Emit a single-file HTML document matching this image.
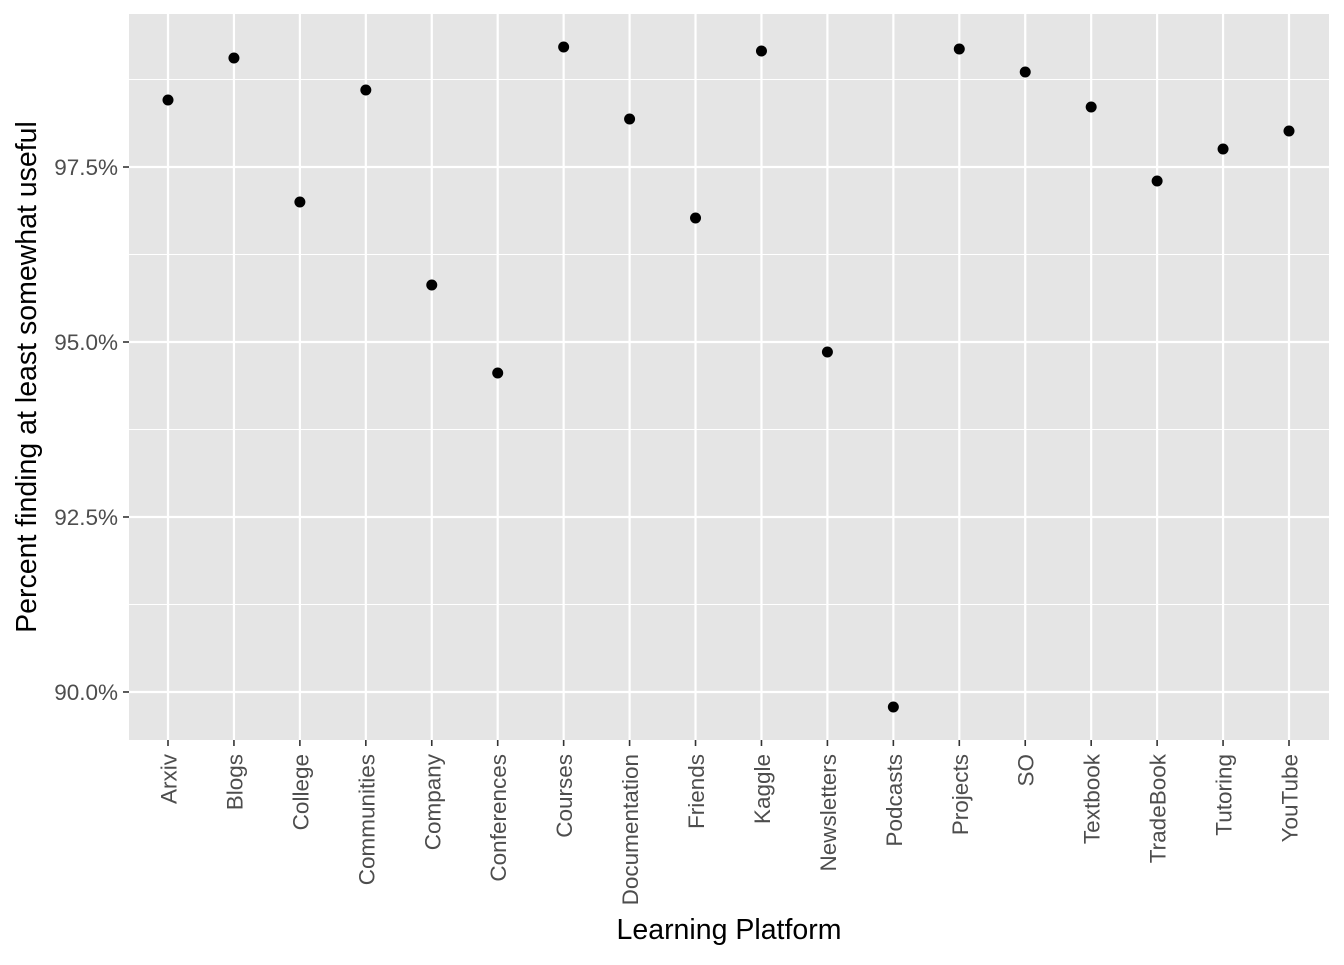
<!DOCTYPE html>
<html><head><meta charset="utf-8"><style>
body{margin:0;background:#fff}
svg text{font-family:"Liberation Sans",Arial,sans-serif}
</style></head><body>
<svg id="c" width="1344" height="960" xmlns="http://www.w3.org/2000/svg"></svg>
<script>
const categories=["Arxiv","Blogs","College","Communities","Company","Conferences","Courses","Documentation","Friends","Kaggle","Newsletters","Podcasts","Projects","SO","Textbook","TradeBook","Tutoring","YouTube"];
const values=[98.457,99.057,97.0,98.6,95.814,94.557,99.214,98.186,96.771,99.157,94.857,89.786,99.186,98.857,98.357,97.3,97.757,98.014];
const yTicks=[90,92.5,95,97.5];
const yTickLabels=["90.0%","92.5%","95.0%","97.5%"];
const L=129,R=1329,T=14,B=740;
const yMin=89.314,yMax=99.686;
const y=v=>B-(v-yMin)/(yMax-yMin)*(B-T);
const step=(1289-168)/17;
const x=i=>168+i*step;
const s=document.getElementById('c');const N='http://www.w3.org/2000/svg';
function mk(t,a,p){const e=document.createElementNS(N,t);for(const k in a)e.setAttribute(k,a[k]);(p||s).appendChild(e);return e;}
const bg=mk('rect',{x:L,y:T,width:R-L,height:B-T,fill:'#e5e5e5'});


const g=mk('g',{});


for(let i=0;i<yTicks.length;i++){mk('line',{x1:L,x2:R,y1:y(yTicks[i]+1.25),y2:y(yTicks[i]+1.25),stroke:'#fff','stroke-width':1},g);}
yTicks.forEach(v=>mk('line',{x1:L,x2:R,y1:y(v),y2:y(v),stroke:'#fff','stroke-width':2.2},g));
categories.forEach((c,i)=>mk('line',{x1:x(i),x2:x(i),y1:T,y2:B,stroke:'#fff','stroke-width':2.2},g));
const ya=mk('g',{});


yTicks.forEach((v,i)=>{mk('line',{x1:L-6,x2:L,y1:y(v),y2:y(v),stroke:'#333','stroke-width':1.6},ya);
const t=mk('text',{x:L-11,y:y(v)+8,'text-anchor':'end','font-size':22.5,fill:'#4d4d4d'},ya);t.textContent=yTickLabels[i];});
const xa=mk('g',{});


categories.forEach((c,i)=>{mk('line',{x1:x(i),x2:x(i),y1:B,y2:B+6,stroke:'#333','stroke-width':1.6},xa);
const t=mk('text',{transform:`translate(${x(i)+8.5},${B+14}) rotate(-90)`,'text-anchor':'end','font-size':22.5,fill:'#4d4d4d'},xa);t.textContent=c;});
const pts=mk('g',{});


values.forEach((v,i)=>{const p=mk('circle',{cx:x(i),cy:y(v),r:5.5,fill:'#000'},pts);

});
const xt=mk('text',{x:(L+R)/2,y:939,'text-anchor':'middle','font-size':28.5,fill:'#000'});xt.textContent='Learning Platform';


const yt=mk('text',{transform:`translate(36,${(T+B)/2}) rotate(-90)`,'text-anchor':'middle','font-size':28.5,fill:'#000'});yt.textContent='Percent finding at least somewhat useful';


</script>
</body></html>
